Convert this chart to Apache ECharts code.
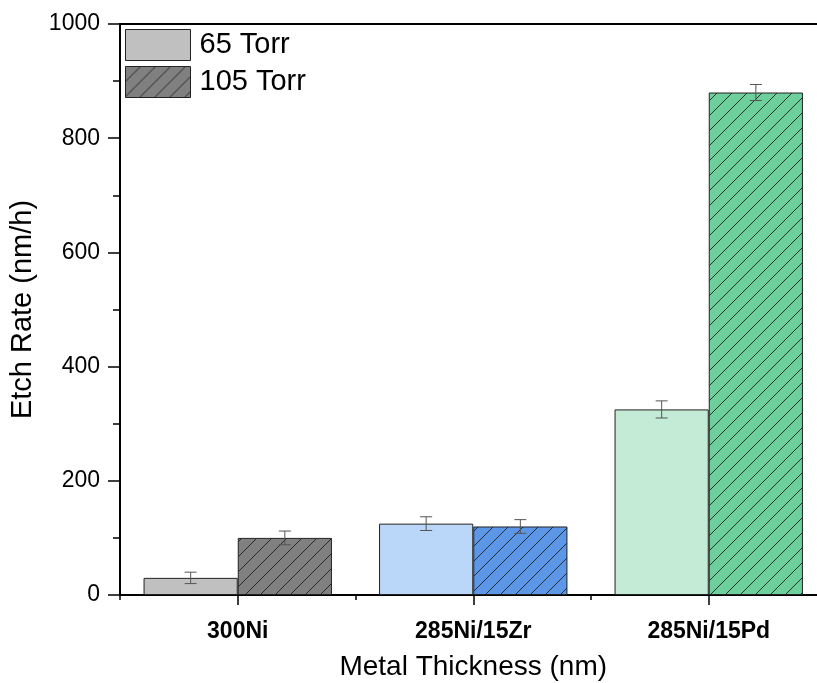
<!DOCTYPE html>
<html>
<head>
<meta charset="utf-8">
<script src="https://cdn.jsdelivr.net/npm/echarts@6/dist/echarts.min.js"></script>
<style>html,body{margin:0;padding:0;background:#fff;overflow:hidden}#c{width:817px;height:683px}</style>
</head>
<body>
<div id="c"></div>
<script>
const categories = ['300Ni', '285Ni/15Zr', '285Ni/15Pd'];
const seriesNames = ['65 Torr', '105 Torr'];
const torr65 = [30, 125, 325];
const torr105 = [100, 120, 880];
const err65 = [10, 12, 15];
const err105 = [12, 12, 14];
const yMin = 0, yMax = 1000, yStep = 200;

const light = ['#c0c0c0', '#bad6f9', '#c4ebd6'];
const dark = ['#808080', '#5b97e6', '#6dcf9b'];

function hatch(fill) {
  const s = 15;
  const c = document.createElement('canvas');
  c.width = s; c.height = s;
  const g = c.getContext('2d');
  g.fillStyle = fill; g.fillRect(0, 0, s, s);
  g.strokeStyle = '#1e1e1e'; g.lineWidth = 0.9;
  g.beginPath();
  g.moveTo(-1, s + 1); g.lineTo(s + 1, -1);
  g.moveTo(-3, 3); g.lineTo(3, -3);
  g.moveTo(s - 3, s + 3); g.lineTo(s + 3, s - 3);
  g.stroke();
  return { image: c, repeat: 'repeat' };
}

const chart = echarts.init(document.getElementById('c'), null, { renderer: 'canvas' });
const font = 'Liberation Sans, Arial, sans-serif';

function errSeries(vals, errs, off) {
  return {
    type: 'custom',
    z: 10,
    silent: true,
    data: categories.map((c, i) => [i, vals[i], errs[i]]),
    encode: { x: 0, y: 1 },
    renderItem: function (params, api) {
      const i = api.value(0), v = api.value(1), e = api.value(2);
      const band = api.size([1, 0])[0];
      const t = api.coord([i, v + e]);
      const b = api.coord([i, v - e]);
      const x = t[0] + off * band;
      const w = 6;
      const st = { stroke: '#555', lineWidth: 1 };
      return {
        type: 'group',
        children: [
          { type: 'line', shape: { x1: x, y1: t[1], x2: x, y2: b[1] }, style: st },
          { type: 'line', shape: { x1: x - w, y1: t[1], x2: x + w, y2: t[1] }, style: st },
          { type: 'line', shape: { x1: x - w, y1: b[1], x2: x + w, y2: b[1] }, style: st }
        ]
      };
    }
  };
}

const option = {
  animation: false,
  backgroundColor: '#fff',
  grid: { left: 120, top: 24, width: 706.5, height: 571, containLabel: false, outerBoundsMode: 'none' },
  legend: {
    left: 125, top: 29, orient: 'vertical', padding: 0,
    itemWidth: 65, itemHeight: 31, itemGap: 5,
    icon: 'rect',
    data: seriesNames,
    textStyle: { fontFamily: font, fontSize: 29, color: '#000', padding: [0, 0, 0, 4] },
    itemStyle: { borderColor: '#222', borderWidth: 1 }
  },
  xAxis: [
    {
      type: 'category', data: categories, position: 'bottom',
      name: 'Metal Thickness (nm)', nameLocation: 'middle', nameGap: 58,
      nameTextStyle: { fontFamily: font, fontSize: 28, color: '#000' },
      axisLine: { show: true, lineStyle: { color: '#000', width: 2 } },
      axisTick: { show: true, alignWithLabel: true, length: 10, lineStyle: { color: '#000', width: 1.5 } },
      axisLabel: { fontFamily: font, fontSize: 23, fontWeight: 'bold', color: '#000', margin: 25 },
      splitLine: { show: false }
    },
    {
      type: 'category', data: categories, position: 'bottom',
      axisLine: { show: false },
      axisTick: { show: true, length: 5, lineStyle: { color: '#000', width: 1.5 } },
      axisLabel: { show: false },
      splitLine: { show: false }
    },
    {
      type: 'category', data: categories, position: 'top',
      axisLine: { show: true, lineStyle: { color: '#000', width: 2 } },
      axisTick: { show: false }, axisLabel: { show: false }, splitLine: { show: false }
    }
  ],
  yAxis: {
    type: 'value', min: yMin, max: yMax, interval: yStep,
    name: 'Etch Rate (nm/h)', nameLocation: 'middle', nameGap: 82,
    nameTextStyle: { fontFamily: font, fontSize: 29, color: '#000' },
    axisLine: { show: true, lineStyle: { color: '#000', width: 2 } },
    axisTick: { show: true, length: 12, lineStyle: { color: '#000', width: 1.5 } },
    minorTick: { show: true, splitNumber: 2, length: 7, lineStyle: { color: '#000', width: 1.5 } },
    axisLabel: { fontFamily: font, fontSize: 23, color: '#000', margin: 20, formatter: v => String(v) },
    splitLine: { show: false }
  },
  series: [
    {
      name: seriesNames[0], type: 'bar', barGap: '0%', barCategoryGap: '20%',
      itemStyle: { color: light[0], borderColor: '#222', borderWidth: 1 },
      data: torr65.map((v, i) => ({ value: v, itemStyle: { color: light[i] } }))
    },
    {
      name: seriesNames[1], type: 'bar', barGap: '0%', barCategoryGap: '20%',
      itemStyle: { color: hatch(dark[0]), borderColor: '#222', borderWidth: 1 },
      data: torr105.map((v, i) => ({ value: v, itemStyle: { color: hatch(dark[i]) } }))
    },
    errSeries(torr65, err65, -0.2),
    errSeries(torr105, err105, 0.2)
  ]
};
chart.setOption(option);
</script>
</body>
</html>
